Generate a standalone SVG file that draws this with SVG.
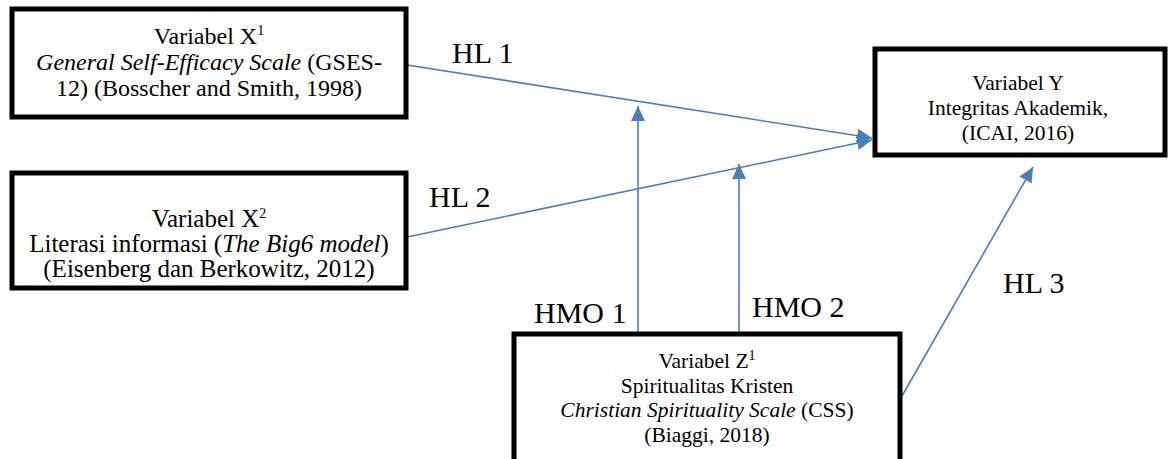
<svg xmlns="http://www.w3.org/2000/svg" width="1172" height="459" viewBox="0 0 1172 459">
<style>
.box{fill:#fff;stroke:#000;stroke-width:5}
.t{font-family:"Liberation Serif","Times New Roman",serif;font-size:21.5px;fill:#000;text-anchor:middle}
.tx{font-size:24px}
.tx2{font-size:25px}
.lbl{font-family:"Liberation Serif","Times New Roman",serif;font-size:30px;fill:#000}
.c{stroke:#4a7ebb;stroke-width:1.6;fill:none;marker-end:url(#ah)}
.sup{font-size:14px}
</style>
<defs>
<marker id="ah" markerUnits="userSpaceOnUse" markerWidth="16" markerHeight="16" viewBox="0 0 16 16" refX="15" refY="8" orient="auto">
<path d="M0,1 L15,8 L0,15 Z" fill="#4a7ebb"/>
</marker>
</defs>
<rect width="1172" height="459" fill="#fff"/>
<g id="connectors">
<line class="c" x1="407" y1="65" x2="872" y2="138"/>
<line class="c" x1="407" y1="237" x2="872" y2="140"/>
<line class="c" x1="638" y1="334" x2="638" y2="106"/>
<line class="c" x1="739" y1="334" x2="739" y2="164"/>
<line class="c" x1="902" y1="396" x2="1033" y2="167"/>
</g>
<g id="nodeX1">
<rect class="box" x="12" y="9" width="394" height="108"/>
<text class="t tx" x="209" y="44">Variabel X<tspan class="sup" dy="-9">1</tspan></text>
<text class="t tx" x="209" y="70"><tspan font-style="italic">General Self-Efficacy Scale</tspan> (GSES-</text>
<text class="t tx" x="209" y="96">12) (Bosscher and Smith, 1998)</text>
</g>
<g id="nodeX2">
<rect class="box" x="12" y="173" width="394" height="115"/>
<text class="t tx2" x="209" y="227">Variabel X<tspan class="sup" dy="-9">2</tspan></text>
<text class="t tx2" x="209" y="252">Literasi informasi (<tspan font-style="italic">The Big6 model</tspan>)</text>
<text class="t tx2" x="209" y="277">(Eisenberg dan Berkowitz, 2012)</text>
</g>
<g id="nodeY">
<rect class="box" x="875" y="49" width="290" height="106"/>
<text class="t" x="1018" y="90">Variabel Y</text>
<text class="t" x="1018" y="115">Integritas Akademik,</text>
<text class="t" x="1018" y="140">(ICAI, 2016)</text>
</g>
<g id="nodeZ">
<rect class="box" x="514" y="334" width="386" height="140"/>
<text class="t" x="707" y="368">Variabel Z<tspan class="sup" dy="-8">1</tspan></text>
<text class="t" x="707" y="393">Spiritualitas Kristen</text>
<text class="t" x="707" y="417"><tspan font-style="italic">Christian Spirituality Scale</tspan> (CSS)</text>
<text class="t" x="707" y="442">(Biaggi, 2018)</text>
</g>
<g id="labels">
<text class="lbl" x="452" y="63">HL 1</text>
<text class="lbl" x="429" y="207">HL 2</text>
<text class="lbl" x="534" y="323">HMO 1</text>
<text class="lbl" x="752" y="317">HMO 2</text>
<text class="lbl" x="1003" y="293">HL 3</text>
</g>
</svg>
